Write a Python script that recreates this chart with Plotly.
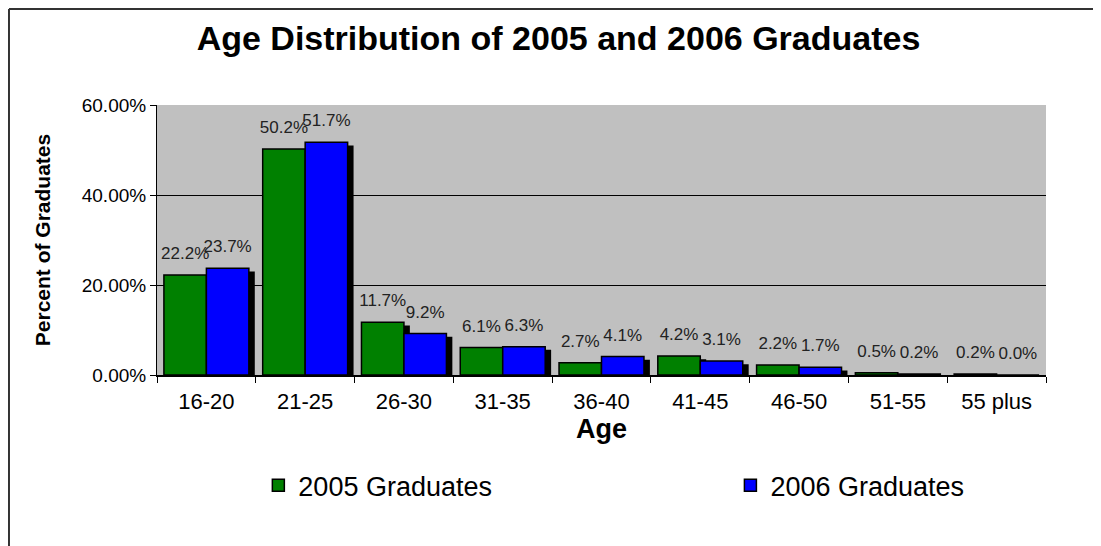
import plotly.graph_objects as go

# Age groups and share of graduates (%)
ages = ['16-20', '21-25', '26-30', '31-35', '36-40', '41-45', '46-50', '51-55', '55 plus']
grads_2005 = [22.2, 50.2, 11.7, 6.1, 2.7, 4.2, 2.2, 0.5, 0.2]
grads_2006 = [23.7, 51.7, 9.2, 6.3, 4.1, 3.1, 1.7, 0.2, 0.0]
y_ticks = [0, 20, 40, 60]

bar_w = 0.43
shadow_dx = 0.06

fig = go.Figure()

# Excel-style drop shadows, drawn first so they sit under the bars
for vals, off in [(grads_2005, -bar_w), (grads_2006, 0)]:
    fig.add_trace(go.Bar(
        x=ages, y=vals, base=-0.7, width=bar_w, offset=off + shadow_dx,
        marker=dict(color='black', line=dict(width=0)),
        showlegend=False, hoverinfo='skip'
    ))

fig.add_trace(go.Bar(
    x=ages, y=grads_2005, name='2005 Graduates', width=bar_w, offset=-bar_w,
    marker=dict(color='#008000', line=dict(color='black', width=1.5)),
    legend='legend'
))
fig.add_trace(go.Bar(
    x=ages, y=grads_2006, name='2006 Graduates', width=bar_w, offset=0,
    marker=dict(color='#0000FF', line=dict(color='black', width=1.5)),
    legend='legend2'
))

# value labels: invisible bars lifted a little so the text floats above each bar like in Excel
for vals, off in [(grads_2005, -bar_w), (grads_2006, 0)]:
    fig.add_trace(go.Bar(
        x=ages, y=vals, base=2.0, width=bar_w, offset=off,
        marker=dict(color='rgba(0,0,0,0)', line=dict(width=0)),
        text=[f'{v:.1f}%' for v in vals], textposition='outside', constraintext='none',
        textfont=dict(size=17, color='#222'), cliponaxis=False,
        showlegend=False, hoverinfo='skip'
    ))

# chart frame (top and left edges visible in the original)
fig.add_shape(type='line', xref='paper', yref='paper', x0=-0.1665, x1=1.2, y0=1.3556, y1=1.3556,
              line=dict(color='#333', width=2))
fig.add_shape(type='line', xref='paper', yref='paper', x0=-0.1665, x1=-0.1665, y0=-0.8, y1=1.3556,
              line=dict(color='#333', width=2))

leg = dict(orientation='h', xanchor='left', y=-0.41, yanchor='middle',
           font=dict(size=27), bgcolor='rgba(0,0,0,0)')

fig.update_layout(
    width=1101, height=546,
    barmode='overlay',
    paper_bgcolor='white',
    plot_bgcolor='#C0C0C0',
    font=dict(family='Liberation Sans, Arial, sans-serif', color='black'),
    margin=dict(l=149, r=63, t=97, b=179),
    title=dict(text='<b>Age Distribution of 2005 and 2006 Graduates</b>',
               x=0.5, xanchor='center', y=0.945, yanchor='middle', yref='container',
               font=dict(size=34, color='black')),
    showlegend=True,
    legend=dict(leg, x=0.114),
    legend2=dict(leg, x=0.645),
)

fig.update_xaxes(
    type='category', tickson='boundaries', ticks='outside', ticklen=6, tickcolor='black',
    showline=True, linecolor='black', linewidth=2, showgrid=False,
    tickfont=dict(size=22), ticklabelstandoff=6,
    title=dict(text='<b>Age</b>', font=dict(size=27), standoff=4),
    range=[-0.5, 8.5]
)
fig.update_yaxes(
    range=[0, 60], tickvals=y_ticks, ticktext=[f'{t:.2f}%' for t in y_ticks],
    ticks='outside', ticklen=6, tickcolor='black',
    showline=True, linecolor='black', linewidth=1,
    showgrid=True, gridcolor='black', gridwidth=1, zeroline=False,
    tickfont=dict(size=19),
    title=dict(text='<b>Percent of Graduates</b>', font=dict(size=21), standoff=25)
)

fig.write_html('out.html')
